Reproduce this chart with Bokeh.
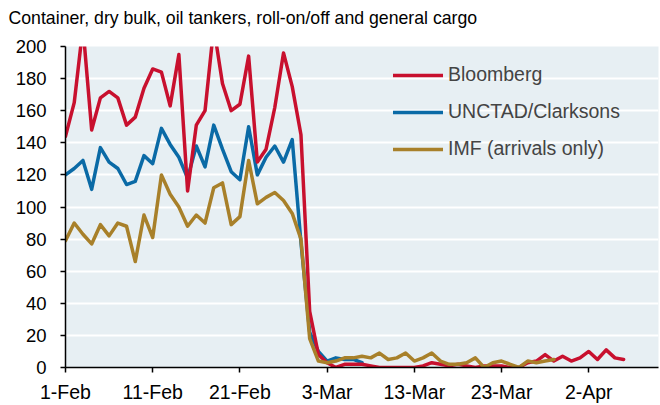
from bokeh.plotting import figure
from bokeh.models import FixedTicker, Legend, LegendItem, Title
from bokeh.embed import file_html
from bokeh.resources import INLINE

subtitle = "Container, dry bulk, oil tankers, roll-on/off and general cargo"

tick_days = [0, 10, 20, 30, 40, 50, 60]
tick_labels = ["1-Feb", "11-Feb", "21-Feb", "3-Mar", "13-Mar", "23-Mar", "2-Apr"]

# daily values, day 0 = 1-Feb
bloomberg = [144, 165, 212, 148, 168, 172, 168, 151, 156, 174, 186, 184, 163, 195, 110,
             151, 160, 212, 177, 160, 164, 194, 128, 136, 162, 196, 175, 145, 35, 8,
             3, 0, 2, 2, 2, 1, 0, 0, 0, 0, 0, 1, 3, 2, 1, 2, 1, 0, 1, 1,
             1, 0, 0, 3, 4, 8, 4, 7, 4, 6, 10, 5, 11, 6, 5]
unctad = [120, 124, 129, 111, 137, 128, 124, 114, 116, 132, 127, 149, 139, 131, 118,
          138, 125, 151, 136, 122, 117, 150, 120, 131, 138, 128, 142, 78, 22, 10,
          4, 6, 5, 5, 3]
imf = [79, 90, 83, 77, 89, 82, 90, 88, 66, 95, 81, 120, 108, 100, 88,
       95, 90, 112, 115, 89, 94, 129, 102, 106, 109, 104, 96, 80, 18, 4,
       3, 4, 6, 6, 7, 6, 9, 5, 6, 9, 4, 6, 9, 4, 2, 2, 3, 6, 0, 3,
       4, 2, 0, 4, 3, 4, 5]

series_names = ["Bloomberg", "UNCTAD/Clarksons", "IMF (arrivals only)"]
colors = ["#c8102e", "#0a6aa6", "#a8802a"]

FONT = "Liberation Sans"

p = figure(width=660, height=405, output_backend="svg", toolbar_location=None,
           x_range=(0, 68), y_range=(0, 200),
           min_border_left=65, min_border_right=2, min_border_top=46, min_border_bottom=35)

p.title.text = subtitle
p.title.text_font = FONT
p.title.text_font_size = "17.7px"
p.title.text_font_style = "normal"
p.title.align = "left"
p.title.offset = -57
p.title.standoff = 0
p.title.text_color = "#000000"

# thin spacer between the subtitle and the plot frame
spacer = Title(text=" ", text_font_size="1px", standoff=16)
p.add_layout(spacer, "above")

p.background_fill_color = "#e7eff3"
p.border_fill_color = "white"
p.outline_line_color = None

p.xgrid.grid_line_color = None
p.ygrid.grid_line_color = "white"
p.ygrid.grid_line_width = 2

p.yaxis.ticker = FixedTicker(ticks=list(range(0, 201, 20)))
p.xaxis.ticker = FixedTicker(ticks=tick_days)
p.xaxis.major_label_overrides = {d: l for d, l in zip(tick_days, tick_labels)}

for ax in (p.xaxis, p.yaxis):
    ax.axis_line_color = "black"
    ax.axis_line_width = 1.5
    ax.major_tick_line_color = "black"
    ax.major_tick_line_width = 1.5
    ax.major_tick_in = 0
    ax.major_tick_out = 5
    ax.minor_tick_line_color = None
    ax.major_label_text_font = FONT
    ax.major_label_text_color = "black"
p.yaxis.major_label_text_font_size = "18.5px"
p.xaxis.major_label_text_font_size = "19.5px"
p.yaxis.major_label_standoff = 14
p.xaxis.major_label_standoff = 8

r_u = p.line(list(range(len(unctad))), unctad, line_color=colors[1], line_width=3.5,
             line_join="round", line_cap="round")
r_b = p.line(list(range(len(bloomberg))), bloomberg, line_color=colors[0], line_width=3.5,
             line_join="round", line_cap="round")
r_i = p.line(list(range(len(imf))), imf, line_color=colors[2], line_width=3.5,
             line_join="round", line_cap="round")

legend = Legend(items=[LegendItem(label=series_names[0], renderers=[r_b]),
                       LegendItem(label=series_names[1], renderers=[r_u]),
                       LegendItem(label=series_names[2], renderers=[r_i])],
                location=(328, 207), background_fill_alpha=0, border_line_color=None,
                padding=0, margin=0, spacing=14, glyph_width=50, glyph_height=20,
                label_height=20, label_standoff=5,
                label_text_font=FONT, label_text_font_size="19.5px")
p.add_layout(legend, "center")

open("out.html", "w").write(file_html(p, INLINE))
